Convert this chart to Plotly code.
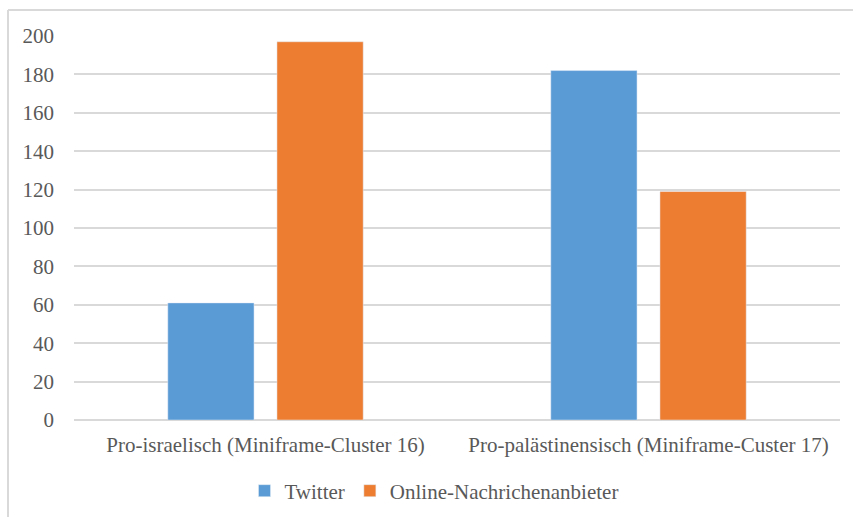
import plotly.graph_objects as go

categories = ["Pro-israelisch (Miniframe-Cluster 16)", "Pro-palästinensisch (Miniframe-Custer 17)"]
twitter = [61, 182]
online_news = [197, 119]
y_ticks = [0, 20, 40, 60, 80, 100, 120, 140, 160, 180, 200]

W, H = 853, 517
L, R, T, B = 74, 13, 36, 97
text_color = "#595959"
font_family = "Liberation Serif"
fs = 21

fig = go.Figure()
fig.add_trace(go.Bar(name="Twitter", x=categories, y=twitter, marker_color="#5B9BD5"))
fig.add_trace(go.Bar(name="Online-Nachrichenanbieter", x=categories, y=online_news, marker_color="#ED7D31"))

pw = W - L - R
ph = H - T - B

fig.update_layout(
    width=W, height=H,
    margin=dict(l=L, r=R, t=T, b=B, pad=0, autoexpand=False),
    paper_bgcolor="white", plot_bgcolor="white",
    barmode="group", bargap=0.43, bargroupgap=0.21,
    font=dict(family=font_family, size=fs, color=text_color),
    showlegend=True,
    legend=dict(orientation="h", xref="container", yref="container",
                x=434 / W, xanchor="center", y=1 - 491 / H, yanchor="middle",
                font=dict(family=font_family, size=fs, color=text_color), itemwidth=30,
                traceorder="normal"),
    xaxis=dict(showgrid=False, showline=False, ticks="", ticklabelstandoff=10, automargin=False,
               tickfont=dict(family=font_family, size=fs, color=text_color)),
    yaxis=dict(range=[0, 200], tickvals=y_ticks, showgrid=True, gridcolor="#d9d9d9",
               gridwidth=1.5, zeroline=True, zerolinecolor="#d9d9d9", zerolinewidth=1.5,
               showline=False, ticks="", ticklabelstandoff=19, automargin=False,
               tickfont=dict(family=font_family, size=fs, color=text_color)),
)

# outer chart frame (top and left edges)
fig.add_shape(type="line", xref="paper", yref="paper",
              x0=(8 - L) / pw, x1=(W + 5 - L) / pw, y0=(H - B - 10) / ph, y1=(H - B - 10) / ph,
              line=dict(color="#d9d9d9", width=2))
fig.add_shape(type="line", xref="paper", yref="paper",
              x0=(8 - L) / pw, x1=(8 - L) / pw, y0=(H - B - 10) / ph, y1=-(H + 5 - T - ph) / ph,
              line=dict(color="#d9d9d9", width=2))

fig.write_html("out.html")
